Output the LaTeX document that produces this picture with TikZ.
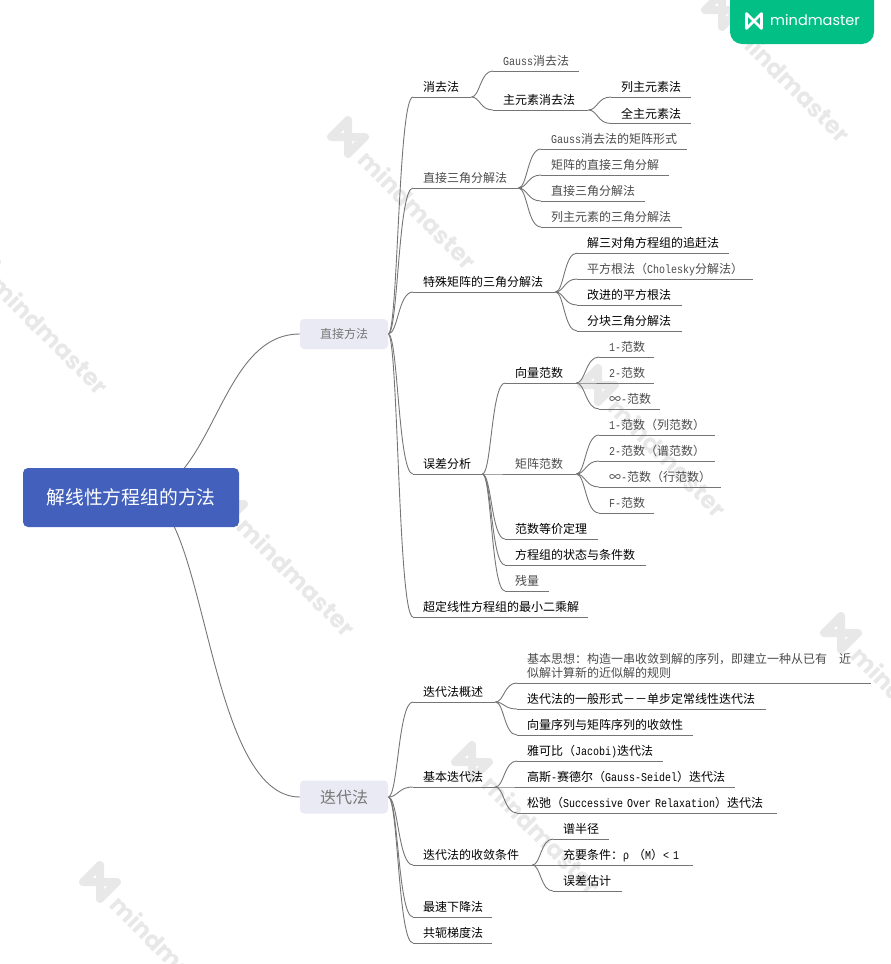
\documentclass[tikz,border=0pt]{standalone}
\usepackage{fontspec}
\usepackage{xcolor}
\usepackage{tikz}
\usetikzlibrary{calc}
\setmainfont{Noto Sans CJK SC}
\newfontfamily\latn[FakeStretch=0.8333]{Liberation Mono}
\newfontfamily\brand{Poppins}
\newcommand{\lat}[1]{{\latn #1}}
\definecolor{rootBlue}{HTML}{4361BC}
\definecolor{subjectFill}{HTML}{E9EAF3}
\definecolor{subjectText}{HTML}{777777}
\definecolor{lineGray}{HTML}{757575}
\definecolor{dimText}{HTML}{4A4A4A}
\definecolor{brandGreen}{HTML}{02BF86}
\definecolor{markGray}{HTML}{E8E8E8}
\pgfdeclarelayer{under}
\pgfsetlayers{under,main}

\begin{document}
\begin{tikzpicture}[x=1pt, y=-1pt, every edge/.append style={draw=lineGray, line width=0.9pt},
 root/.style = {rectangle, rounded corners=5pt, fill=rootBlue, text=white, minimum width=216pt, minimum height=59pt, inner sep=0pt, font=\fontsize{18.8}{21}\selectfont},
 subject/.style = {rectangle, rounded corners=4pt, fill=subjectFill, text=subjectText, minimum width=88pt, inner sep=0pt},
 leaf/.style = {anchor=south west, text width=#1pt, inner xsep=0pt, inner ysep=0pt, text depth=5pt, align=left, text=black, font=\fontsize{12}{14}\selectfont, execute at begin node={\leftskip=10pt\relax}, append after command={(\tikzlastnode.south west) edge (\tikzlastnode.south east)}},
 dim/.style = {text=dimText},
 branch/.style = {to path={.. controls ($(\tikztostart)!#1!(\tikztotarget |- \tikztostart)$) and ($(\tikztostart |- \tikztotarget)!#1!(\tikztotarget)$) .. (\tikztotarget) \tikztonodes}},
 branch/.default = 0.4,
 watermark/.style = {rotate=-45, text=markGray, inner sep=0pt, font=\brand\bfseries\fontsize{24}{24}\selectfont},
 logomark/.pic = {\draw[pic actions, line join=round] (-1,1) -- (-1,-1) -- (1,1) -- (1,-1) -- cycle;}]

\useasboundingbox (0,0) rectangle (891,964);

\begin{pgfonlayer}{under}
\foreach \x/\y in {348/137, -20/262, 227/504, 722/10, 598/385, 841/633, 100/882, 472/762} {
 \pic[draw=markGray, line width=8pt, rotate=-45, scale=12] at (\x,\y) {logomark};
 \node[watermark] (mark\x) at (\x+70,\y+73) {mindmaster};
}
\end{pgfonlayer}

\node[rectangle, rounded corners=12pt, fill=brandGreen, minimum width=144pt, minimum height=68pt, inner sep=0pt] (badge) at (802,10) {};
\pic[draw=white, line width=2.6pt, scale=7.5] at (754,21) {logomark};
\node[text=white, inner sep=0pt, font=\brand\fontsize{14.5}{16}\selectfont] (badgeText) at (815,20) {mindmaster};

\node[root] (method) at (131,497.5) {解线性方程组的方法};
\node[subject, minimum height=30pt, font=\fontsize{12}{14}\selectfont] (direct) at (344,334) {直接方法};
\node[subject, minimum height=33pt, font=\fontsize{16}{18}\selectfont] (iter) at (344,797) {迭代法};

% first branch
\node[leaf=58] (elim) at (413,97) {消去法};
\node[leaf=86, dim] (gaussElim) at (493,71) {\lat{Gauss}消去法};
\node[leaf=95] (pivotElim) at (493,110) {主元素消去法};
\node[leaf=80] (colPivot) at (611,97) {列主元素法};
\node[leaf=80] (fullPivot) at (611,123.5) {全主元素法};
\node[leaf=105, dim] (tri) at (413,188) {直接三角分解法};
\node[leaf=146, dim] (triForm) at (541,149) {\lat{Gauss}消去法的矩阵形式};
\node[leaf=128, dim] (triMatrix) at (541,175) {矩阵的直接三角分解};
\node[leaf=104, dim] (triDirect) at (541,201) {直接三角分解法};
\node[leaf=141, dim] (triPivot) at (541,227) {列主元素的三角分解法};
\node[leaf=142] (special) at (413,292) {特殊矩阵的三角分解法};
\node[leaf=152] (chase) at (577,253) {解三对角方程组的追赶法};
\node[leaf=176, dim] (cholesky) at (577,279) {平方根法（\lat{Cholesky}分解法）};
\node[leaf=105] (improved) at (577,305) {改进的平方根法};
\node[leaf=105] (block) at (577,331) {分块三角分解法};
\node[leaf=69] (error) at (413,474) {误差分析};
\node[leaf=71] (vecNorm) at (505,383) {向量范数};
\node[leaf=55, dim] (vecOne) at (599,357) {\lat{1-}范数};
\node[leaf=55, dim] (vecTwo) at (599,383) {\lat{2-}范数};
\node[leaf=61, dim] (vecInf) at (599,409) {∞\lat{-}范数};
\node[leaf=71, dim] (matNorm) at (505,474) {矩阵范数};
\node[leaf=116, dim] (matOne) at (599,435) {\lat{1-}范数（列范数）};
\node[leaf=116, dim] (matTwo) at (599,461) {\lat{2-}范数（谱范数）};
\node[leaf=122, dim] (matInf) at (599,487) {∞\lat{-}范数（行范数）};
\node[leaf=55, dim] (matF) at (599,513) {\lat{F-}范数};
\node[leaf=93] (equiv) at (505,539) {范数等价定理};
\node[leaf=141] (cond) at (505,565) {方程组的状态与条件数};
\node[leaf=44, dim] (resid) at (505,591) {残量};
\node[leaf=175] (lsq) at (413,617) {超定线性方程组的最小二乘解};

% second branch
\node[leaf=82] (overview) at (413,702) {迭代法概述};
\node[leaf=354, dim, text depth=19pt] (idea) at (517,683) {基本思想：构造一串收敛到解的序列，即建立一种从已有\hspace{12pt}近\\似解计算新的近似解的规则};
\node[leaf=249] (general) at (517,709) {迭代法的一般形式－－单步定常线性迭代法};
\node[leaf=176] (seq) at (517,735) {向量序列与矩阵序列的收敛性};
\node[leaf=82] (basic) at (413,787) {基本迭代法};
\node[leaf=146] (jacobi) at (517,761) {雅可比（\lat{Jacobi)}迭代法};
\node[leaf=218] (seidel) at (517,787) {高斯\lat{-}赛德尔（\lat{Gauss-Seidel}）迭代法};
\node[leaf=260] (sor) at (517,813) {松弛（\lat{Successive Over Relaxation}）迭代法};
\node[leaf=119] (converge) at (413,865) {迭代法的收敛条件};
\node[leaf=56] (radius) at (553,839) {谱半径};
\node[leaf=140] (suffice) at (553,865) {充要条件：\lat{ρ }（\lat{M}）\lat{< 1}};
\node[leaf=69] (estimate) at (553,891) {误差估计};
\node[leaf=79] (descent) at (413,917) {最速下降法};
\node[leaf=79] (conj) at (413,943) {共轭梯度法};

\begin{pgfonlayer}{under}
\path
 (method.center) edge[branch=0.5] (direct.west)
 ([xshift=13pt]method.center) edge[branch] (iter.west)
 (direct.east) edge[branch] (elim.south west)
 (direct.east) edge[branch] (tri.south west)
 (direct.east) edge[branch] (special.south west)
 (direct.east) edge[branch] (error.south west)
 (direct.east) edge[branch] (lsq.south west)
 (iter.east) edge[branch] (overview.south west)
 (iter.east) edge[branch] (basic.south west)
 (iter.east) edge[branch] (converge.south west)
 (iter.east) edge[branch] (descent.south west)
 (iter.east) edge[branch] (conj.south west);
\end{pgfonlayer}

\path
 (elim.south east) edge[branch] (gaussElim.south west)
 (elim.south east) edge[branch] (pivotElim.south west)
 (pivotElim.south east) edge[branch] (colPivot.south west)
 (pivotElim.south east) edge[branch] (fullPivot.south west)
 (tri.south east) edge[branch] (triForm.south west)
 (tri.south east) edge[branch] (triMatrix.south west)
 (tri.south east) edge[branch] (triDirect.south west)
 (tri.south east) edge[branch] (triPivot.south west)
 (special.south east) edge[branch] (chase.south west)
 (special.south east) edge[branch] (cholesky.south west)
 (special.south east) edge[branch] (improved.south west)
 (special.south east) edge[branch] (block.south west)
 (error.south east) edge[branch] (vecNorm.south west)
 (error.south east) edge[branch] (matNorm.south west)
 (error.south east) edge[branch] (equiv.south west)
 (error.south east) edge[branch] (cond.south west)
 (error.south east) edge[branch] (resid.south west)
 (vecNorm.south east) edge[branch] (vecOne.south west)
 (vecNorm.south east) edge[branch] (vecTwo.south west)
 (vecNorm.south east) edge[branch] (vecInf.south west)
 (matNorm.south east) edge[branch] (matOne.south west)
 (matNorm.south east) edge[branch] (matTwo.south west)
 (matNorm.south east) edge[branch] (matInf.south west)
 (matNorm.south east) edge[branch] (matF.south west)
 (overview.south east) edge[branch] (idea.south west)
 (overview.south east) edge[branch] (general.south west)
 (overview.south east) edge[branch] (seq.south west)
 (basic.south east) edge[branch] (jacobi.south west)
 (basic.south east) edge[branch] (seidel.south west)
 (basic.south east) edge[branch] (sor.south west)
 (converge.south east) edge[branch] (radius.south west)
 (converge.south east) edge[branch] (suffice.south west)
 (converge.south east) edge[branch] (estimate.south west);
\end{tikzpicture}
\end{document}
